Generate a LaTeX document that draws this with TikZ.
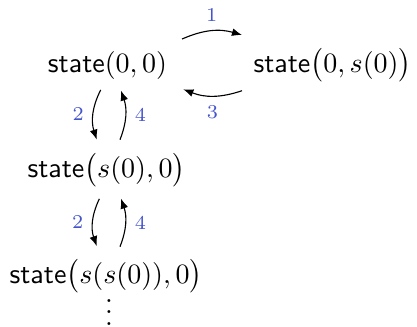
\documentclass[tikz,border=0pt]{standalone}
\usepackage{amsmath}
\usepackage{xcolor}
\usetikzlibrary{arrows.meta}

\definecolor{lblblue}{RGB}{68,84,204}
\tikzset{
  statenode/.style={inner sep=0pt, anchor=base},
  trans/.style={thin, -{Latex[length=3.6pt,width=2.8pt]}},
  translbl/.style={font=\scriptsize, text=lblblue, inner sep=3.2pt}
}

\begin{document}
\begin{tikzpicture}[x=0.35714pt, y=-0.35714pt]
        \useasboundingbox (0,0) rectangle (417,326);
        % States (placed on their baselines)
        \node[statenode] (s00) at (107.5,72) {$\textsf{state}(0,0)$};
        \node[statenode] (s0s) at (332.5,72) {$\textsf{state}\bigl(0,s(0)\bigr)$};
        \node[statenode] (ss0) at (106.5,177) {$\textsf{state}\bigl(s(0),0\bigr)$};
        \node[statenode] (sss0) at (106,283) {$\textsf{state}\bigl(s(s(0)),0\bigr)$};
        \node[statenode, text height=8pt] (more) at (109,325) {$\vdots$};
        % Horizontal transitions 1 and 3
        \draw[trans] ([shift={(14.5,-33)}]s00.base east) to[bend left=20]
            node[translbl, above] {$1$} ([shift={(-11,-37)}]s0s.base west);
        \draw[trans] ([shift={(-11,18.7)}]s0s.base west) to[bend left=20]
            node[translbl, below] {$3$} ([shift={(15.7,17.3)}]s00.base east);
        % Vertical transitions 2 and 4 (first pair)
        \draw[trans] ([shift={(-6.8,10.3)}]s00.south) to[bend right=22]
            node[translbl, left] {$2$} ([shift={(-9.8,-13)}]ss0.north);
        \draw[trans] ([shift={(13.5,-13)}]ss0.north) to[bend right=20]
            node[translbl, right] {$4$} ([shift={(13.5,11)}]s00.south);
        % Vertical transitions 2 and 4 (second pair)
        \draw[trans] ([shift={(-7.2,11.5)}]ss0.south) to[bend right=22]
            node[translbl, left] {$2$} ([shift={(-9.3,-12.5)}]sss0.north);
        \draw[trans] ([shift={(14,-12)}]sss0.north) to[bend right=20]
            node[translbl, right] {$4$} ([shift={(14.5,11.2)}]ss0.south);
\end{tikzpicture}
\end{document}
